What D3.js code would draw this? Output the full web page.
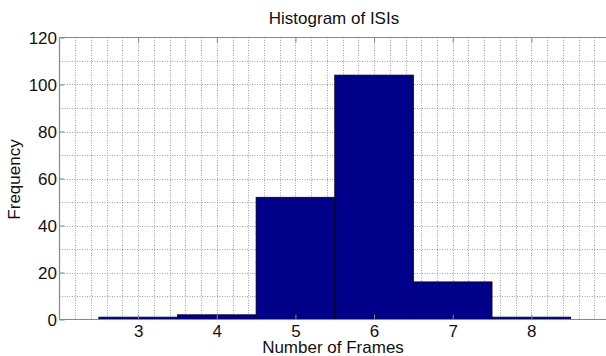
<!DOCTYPE html>
<html>
<head>
<meta charset="utf-8">
<script src="https://cdn.jsdelivr.net/npm/d3@7"></script>
<style>
  html, body { margin: 0; padding: 0; background: #fff; }
  svg { display: block; font-family: "Liberation Sans", Arial, sans-serif; }
</style>
</head>
<body>
<svg id="chart" width="606" height="356"></svg>
<script>
// Histogram bins (centres) and counts
const binCenters = [3, 4, 5, 6, 7, 8];
const counts = [1, 2, 52, 104, 16, 1];
const xTicks = [3, 4, 5, 6, 7, 8];
const yTicks = [0, 20, 40, 60, 80, 100, 120];

const svg = d3.select("#chart");
const plotLeft = 59.5, plotRight = 610, plotTop = 37.5, plotBottom = 319.5;

const x = d3.scaleLinear().domain([2, 9]).range([plotLeft, plotRight]);
const y = d3.scaleLinear().domain([0, 120]).range([plotBottom, plotTop]);

// dotted grid: minor every 0.2 in x and every 10 in y
const gridX = d3.range(1, 35).map(i => 2 + i * 0.2);
const gridY = d3.range(1, 12).map(i => i * 10);
const grid = svg.append("g").attr("stroke", "#a0a0a0").attr("stroke-width", 1)
  .attr("stroke-dasharray", "1,1.5");
grid.selectAll("line.v").data(gridX).join("line").attr("class", "v")
  .attr("x1", d => Math.round(x(d)) + 0.5).attr("x2", d => Math.round(x(d)) + 0.5)
  .attr("y1", plotTop).attr("y2", plotBottom);
grid.selectAll("line.h").data(gridY).join("line").attr("class", "h")
  .attr("x1", plotLeft).attr("x2", plotRight)
  .attr("y1", d => Math.round(y(d)) + 0.5).attr("y2", d => Math.round(y(d)) + 0.5);

// bars
svg.append("g").selectAll("rect").data(binCenters).join("rect")
  .attr("x", d => x(d - 0.5))
  .attr("width", d => x(d + 0.5) - x(d - 0.5))
  .attr("y", (d, i) => y(counts[i]))
  .attr("height", (d, i) => y(0) - y(counts[i]))
  .attr("fill", "#000088")
  .attr("stroke", "#000020")
  .attr("stroke-width", 0.8);

// axes box (left, bottom, top)
const axisColor = "#888";
svg.append("line").attr("x1", plotLeft).attr("x2", plotRight).attr("y1", plotBottom).attr("y2", plotBottom)
  .attr("stroke", axisColor).attr("stroke-width", 1.2);
svg.append("line").attr("x1", plotLeft).attr("x2", plotRight).attr("y1", plotTop).attr("y2", plotTop)
  .attr("stroke", axisColor).attr("stroke-width", 1.2);
svg.append("line").attr("x1", plotLeft).attr("x2", plotLeft).attr("y1", plotTop).attr("y2", plotBottom)
  .attr("stroke", axisColor).attr("stroke-width", 1.2);

// inward tick marks on the axes
const fontFam = "'Liberation Sans', Arial, sans-serif";
const xAxisB = d3.axisBottom(x).tickValues(xTicks).tickSize(-5).tickFormat(d3.format("d"));
const gxb = svg.append("g").attr("transform", `translate(0,${plotBottom})`).call(xAxisB);
gxb.select(".domain").remove();
gxb.selectAll(".tick line").attr("stroke", axisColor);
gxb.selectAll(".tick text").attr("y", 17.5).attr("dy", null)
  .attr("font-size", 17).attr("fill", "#111").attr("font-family", fontFam);

const xAxisT = d3.axisTop(x).tickValues(xTicks).tickSize(-5).tickFormat("");
const gxt = svg.append("g").attr("transform", `translate(0,${plotTop})`).call(xAxisT);
gxt.select(".domain").remove();
gxt.selectAll(".tick line").attr("stroke", axisColor);

const yAxis = d3.axisLeft(y).tickValues(yTicks).tickSize(-5).tickFormat(d3.format("d"));
const gyl = svg.append("g").attr("transform", `translate(${plotLeft},0)`).call(yAxis);
gyl.select(".domain").remove();
gyl.selectAll(".tick line").attr("stroke", axisColor);
gyl.selectAll(".tick text").attr("x", -2.5).attr("dy", "0.36em")
  .attr("font-size", 17).attr("fill", "#111").attr("font-family", fontFam);

// labels
svg.append("text").attr("x", 334).attr("y", 24).attr("text-anchor", "middle")
  .attr("font-size", 17).attr("fill", "#111").text("Histogram of ISIs");
svg.append("text").attr("x", 333).attr("y", 352.5).attr("text-anchor", "middle")
  .attr("font-size", 17).attr("fill", "#111").text("Number of Frames");
svg.append("text").attr("transform", `translate(20,${(plotTop + plotBottom) / 2 + 1}) rotate(-90)`)
  .attr("text-anchor", "middle").attr("font-size", 17).attr("fill", "#111").text("Frequency");
</script>
</body>
</html>
